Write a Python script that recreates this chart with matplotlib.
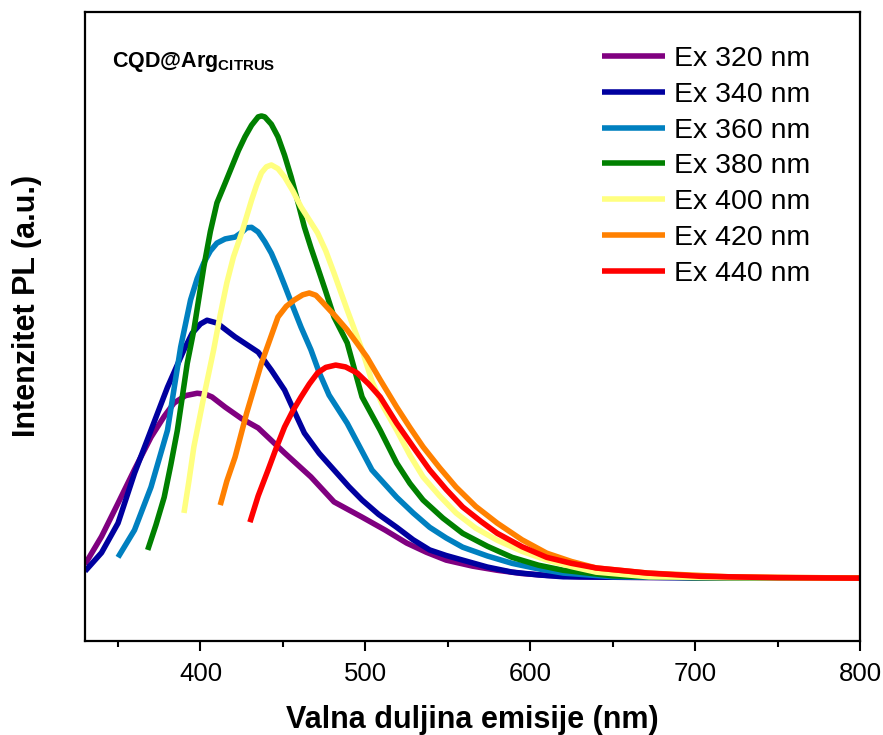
import numpy as np
import matplotlib
matplotlib.use("Agg")
import matplotlib.pyplot as plt

plt.rcParams['font.family'] = ['Liberation Sans', 'DejaVu Sans']
plt.rcParams['mathtext.fontset'] = 'custom'
plt.rcParams['mathtext.rm'] = 'Liberation Sans'
plt.rcParams['mathtext.bf'] = 'Liberation Sans:bold'

# PL emission spectra (intensity in a.u., peak of 380 nm ~ 100)
wl_320 = [330, 340, 350, 360, 370, 378, 384, 391, 398, 403, 407, 415, 425, 435, 451, 467, 481, 498, 512, 525, 537, 549, 565, 580, 595, 610, 630, 650, 700, 800]
pl_320 = [3.0, 9.0, 16.2, 23.5, 30.5, 35.0, 37.9, 39.5, 40.0, 39.8, 39.2, 37.0, 34.5, 32.5, 27.1, 21.9, 16.5, 13.2, 10.4, 7.6, 5.6, 3.9, 2.6, 1.7, 1.0, 0.6, 0.3, 0.2, 0.1, 0.0]

wl_340 = [330, 340, 350, 360, 370, 380, 390, 395, 400, 404, 410, 421, 435, 443, 451, 457, 463, 472, 481, 490, 498, 508, 519, 529, 539, 549, 559, 574, 589, 605, 620, 650, 700, 800]
pl_340 = [1.5, 5.5, 11.9, 22.7, 32.0, 41.3, 49.4, 53.0, 55.0, 55.8, 55.2, 52.2, 48.9, 45.0, 40.7, 36.0, 31.4, 27.0, 23.4, 19.8, 16.9, 13.8, 11.0, 8.3, 6.1, 4.9, 3.9, 2.4, 1.3, 0.7, 0.3, 0.2, 0.1, 0.0]

wl_360 = [350, 360, 370, 380, 388, 394, 398, 402, 406, 410, 415, 421, 425, 428, 431, 435, 439, 443, 447, 451, 456, 461, 467, 472, 478, 489, 504, 519, 529, 539, 549, 559, 574, 589, 605, 620, 650, 700, 800]
pl_360 = [4.5, 10.4, 19.7, 32.0, 50.0, 60.2, 64.8, 68.2, 70.8, 72.5, 73.4, 73.8, 74.8, 75.8, 75.9, 74.9, 72.8, 70.3, 67.0, 63.4, 58.8, 54.3, 49.4, 44.5, 39.6, 33.5, 23.4, 17.5, 14.1, 11.0, 8.7, 6.7, 4.8, 3.2, 2.0, 1.1, 0.3, 0.1, 0.0]

wl_380 = [368, 373, 378, 382, 386, 392, 396, 402, 406, 410, 415, 419, 423, 427, 431, 435, 437, 439, 443, 447, 451, 455, 459, 463, 467, 471, 476, 481, 489, 498, 509, 519, 527, 535, 547, 559, 574, 589, 605, 620, 650, 700, 800]
pl_380 = [6.1, 11.5, 17.5, 24.5, 32.0, 46.5, 53.7, 67.3, 75.0, 81.2, 85.5, 89.0, 92.5, 95.5, 98.0, 99.8, 100.0, 99.8, 98.2, 95.5, 91.5, 86.8, 81.5, 76.0, 71.5, 67.3, 62.0, 56.5, 50.9, 39.2, 32.0, 24.9, 20.5, 16.9, 13.0, 9.7, 6.9, 4.5, 2.8, 1.7, 0.5, 0.1, 0.0]

wl_400 = [390, 393, 396, 402, 408, 412, 416, 420, 425, 431, 434, 437, 440, 443, 447, 451, 456, 461, 466, 471, 476, 481, 489, 498, 504, 511, 519, 527, 535, 545, 555, 567, 580, 595, 610, 625, 640, 672, 720, 800]
pl_400 = [14.1, 21.0, 28.4, 39.2, 49.4, 57.0, 63.9, 69.5, 74.7, 81.8, 85.0, 87.7, 89.0, 89.4, 88.6, 86.8, 83.8, 80.3, 77.5, 74.7, 70.8, 66.0, 58.0, 49.4, 42.6, 37.0, 32.0, 26.6, 21.9, 17.8, 14.1, 10.8, 8.2, 5.8, 3.9, 2.5, 1.3, 0.3, 0.1, 0.0]

wl_420 = [412, 416, 421, 428, 437, 442, 447, 452, 457, 462, 466, 470, 474, 481, 489, 495, 501, 509, 519, 527, 535, 545, 555, 567, 580, 595, 610, 625, 640, 671, 720, 800]
pl_420 = [15.8, 21.0, 26.2, 35.7, 46.5, 51.5, 56.5, 58.8, 60.2, 61.3, 61.7, 61.2, 59.7, 57.0, 53.7, 50.8, 47.8, 42.9, 37.0, 32.6, 28.4, 23.9, 19.7, 15.5, 11.9, 8.3, 5.4, 3.6, 2.2, 1.1, 0.3, 0.0]

wl_440 = [430, 435, 441, 446, 451, 456, 461, 466, 471, 476, 482, 488, 495, 502, 509, 519, 529, 539, 549, 559, 570, 580, 595, 610, 625, 640, 671, 703, 750, 800]
pl_440 = [12.1, 17.8, 23.4, 28.2, 32.7, 36.2, 39.2, 42.0, 44.4, 45.6, 46.1, 45.7, 44.4, 42.0, 39.2, 33.5, 28.4, 23.4, 19.2, 15.4, 12.3, 9.7, 6.8, 4.5, 3.2, 2.2, 1.1, 0.4, 0.1, 0.0]

series = [
    ('Ex 320 nm', wl_320, pl_320, '#800080'),
    ('Ex 340 nm', wl_340, pl_340, '#00009f'),
    ('Ex 360 nm', wl_360, pl_360, '#0080c0'),
    ('Ex 380 nm', wl_380, pl_380, '#008000'),
    ('Ex 400 nm', wl_400, pl_400, '#ffff80'),
    ('Ex 420 nm', wl_420, pl_420, '#ff8000'),
    ('Ex 440 nm', wl_440, pl_440, '#ff0000'),
]

fig = plt.figure(figsize=(8.83, 7.35), dpi=100)
ax = fig.add_axes([0.0963, 0.1279, 0.8777, 0.8558])

for name, x, y, c in series:
    ax.plot(x, y, color=c, lw=4, label=name, solid_joinstyle='round',
            solid_capstyle='butt')

ax.set_xlim(330, 800)
ax.set_ylim(-13.6, 122.5)
ax.set_xticks([400, 500, 600, 700, 800])
ax.set_xticks([350, 450, 550, 650, 750], minor=True)
ax.set_yticks([])
ax.tick_params(axis='x', which='major', direction='out', length=7, width=1.5,
               labelsize=18.5, pad=8)
ax.tick_params(axis='x', which='minor', direction='out', length=4.5, width=1.5)
for s in ax.spines.values():
    s.set_linewidth(1.6)

ax.set_xlabel('Valna duljina emisije (nm)', fontsize=22, fontweight='bold', labelpad=14)
ax.set_ylabel('Intenzitet PL (a.u.)', fontsize=22, fontweight='bold')
ax.yaxis.set_label_coords(-0.055, 0.533)

ax.text(0.035, 0.913, r'$\mathbf{CQD@Arg}_{\mathbf{CITRUS}}$', transform=ax.transAxes,
        fontsize=15.5, ha='left', va='baseline')

ax.legend(loc='upper left', bbox_to_anchor=(0.667, 0.946), frameon=False,
          fontsize=20.5, handlelength=2.23, handletextpad=0.31, labelspacing=0.345,
          borderpad=0, borderaxespad=0)

fig.savefig('out.png', dpi=100)
